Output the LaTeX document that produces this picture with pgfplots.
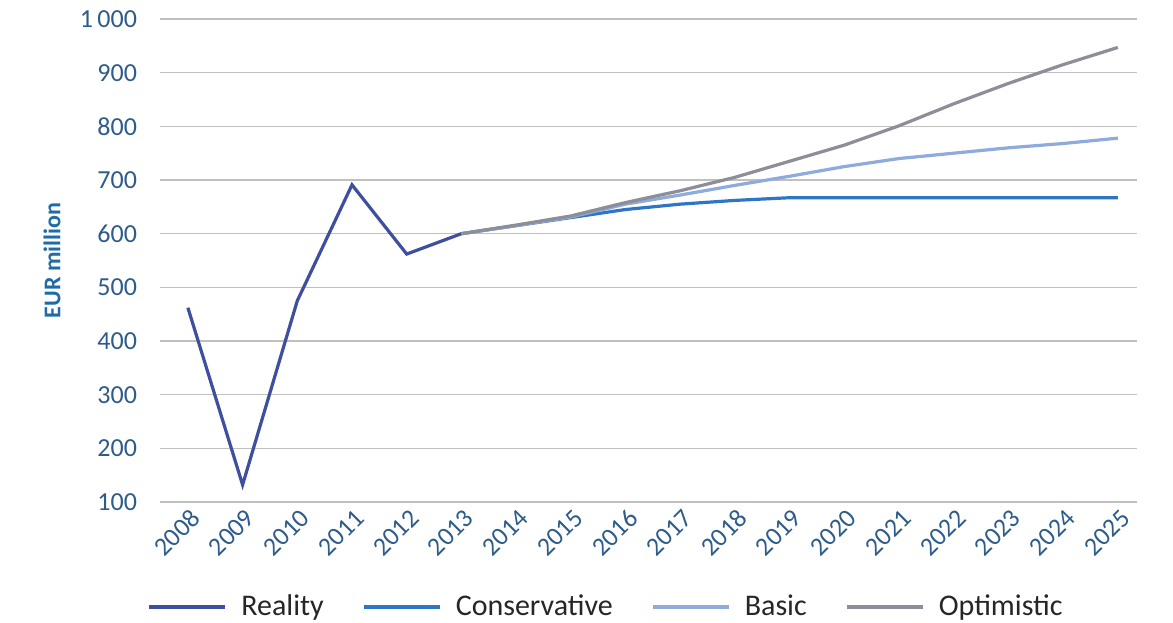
\documentclass[border=0pt]{standalone}
\usepackage{fontspec}
\setmainfont{Carlito}
\usepackage{pgfplots}
\pgfplotsset{compat=1.18}
\definecolor{reality}{HTML}{3F4FA0}
\definecolor{conserv}{HTML}{2E75C6}
\definecolor{basic}{HTML}{8FAADC}
\definecolor{optim}{HTML}{8C8E98}
\definecolor{ticktxt}{HTML}{2E5C8A}
\definecolor{labtxt}{HTML}{1F6BA8}
\definecolor{gridc}{HTML}{C0C0C0}

\begin{document}
\begin{tikzpicture}
\path[use as bounding box] (-80bp,-60.5bp) rectangle (506.5bp,251bp);
\begin{axis}[
    at={(0,0)}, anchor=south west,
    scale only axis,
    width=488.5bp, height=241.5bp,
    xmin=2007.49, xmax=2025.35,
    ymin=100, ymax=1000,
    xtick={2008,2009,...,2025},
    ytick={100,200,...,1000},
    axis line style={draw=none},
    ymajorgrids,
    major grid style={gridc, line width=0.8bp},
    major tick length=0pt,
    /pgf/number format/assume math mode=true,
    /pgf/number format/1000 sep={\,},
    xticklabel={\pgfmathprintnumber[1000 sep={}]{\tick}},
    ticklabel style={font=\fontsize{13bp}{15bp}\selectfont, text=ticktxt},
    yticklabel style={xshift=-8bp},
    xticklabel style={rotate=45, anchor=east, yshift=-7bp, xshift=2bp},
    ylabel={EUR million},
    ylabel style={at={(axis description cs:-0.1105,0.5)}, anchor=center, rotate=0,
        font=\fontsize{12bp}{14bp}\selectfont\bfseries, text=labtxt},
    legend columns=4,
    legend style={at={(axis description cs:0.4575,-0.217)}, anchor=center,
        draw=none, fill=none, font=\fontsize{15bp}{17bp}\selectfont,
        text=black!85,
        /tikz/every odd column/.style={column sep=5bp},
        /tikz/every even column/.style={column sep=17bp}},
    legend image code/.code={\draw[#1, line width=2bp] (0bp,0bp) -- (38bp,0bp);},
]
% actual values
\addplot[reality, line width=1.6bp] coordinates {
    (2008,462) (2009,132) (2010,475) (2011,691) (2012,562) (2013,600)
};
% scenarios
\addplot[conserv, line width=1.6bp] coordinates {
    (2013,600) (2014,615) (2015,630) (2016,645) (2017,655) (2018,662)
    (2019,667) (2020,667) (2021,667) (2022,667) (2023,667) (2024,667) (2025,667)
};
\addplot[basic, line width=1.6bp] coordinates {
    (2013,600) (2014,615) (2015,631) (2016,655) (2017,672) (2018,690)
    (2019,707) (2020,725) (2021,740) (2022,750) (2023,760) (2024,768) (2025,778)
};
\addplot[optim, line width=1.6bp] coordinates {
    (2013,600) (2014,616) (2015,633) (2016,658) (2017,680) (2018,705)
    (2019,735) (2020,765) (2021,801) (2022,842) (2023,880) (2024,915) (2025,947)
};
\legend{Reality, Conservative, Basic, Optimistic}
\end{axis}
\end{tikzpicture}
\end{document}
